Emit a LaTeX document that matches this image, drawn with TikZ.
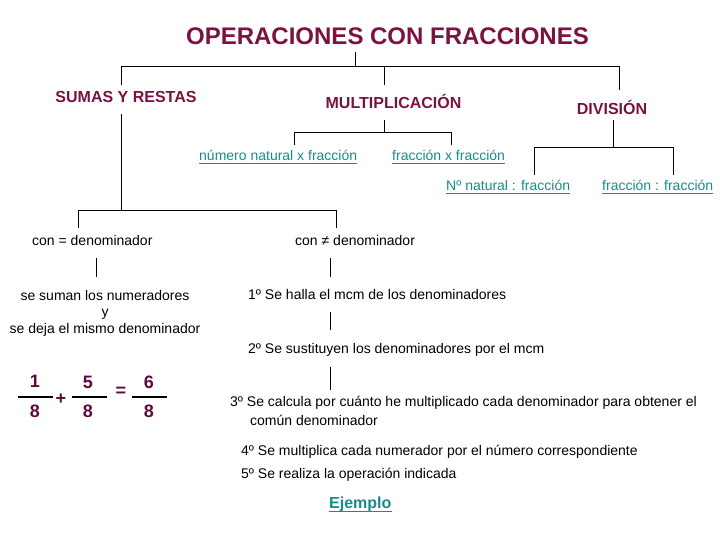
\documentclass[tikz,border=0pt]{standalone}
\usepackage{fontspec}
\setmainfont{Liberation Sans}
\definecolor{headc}{RGB}{122,18,66}
\definecolor{lnkc}{RGB}{22,140,140}
\definecolor{fracc}{RGB}{95,10,60}
\begin{document}
\begin{tikzpicture}[x=1pt,y=-1pt,
  headtxt/.style={font=\fontsize{16}{19}\selectfont\bfseries, text=headc, inner sep=0pt, anchor=base},
  smalltxt/.style={font=\fontsize{14}{16}\selectfont, inner sep=0pt, anchor=base west},
  lnktxt/.style={smalltxt, text=lnkc},
  conn/.style={line width=0.9pt, black},
  fbar/.style={line width=2.6pt, black},
  digit/.style={font=\fontsize{18}{20}\selectfont\bfseries, text=fracc, inner sep=0pt, anchor=center},
  uline/.style={lnkc, line width=0.9pt}]
\fill[white] (0,0) rectangle (720,540);
\useasboundingbox (0,0) rectangle (720,540);

% headings
\node[font=\fontsize{24}{28}\selectfont\bfseries, text=headc, inner sep=0pt, anchor=base] (title) at (387.5,45) {OPERACIONES CON FRACCIONES};
\node[headtxt] (sumas) at (126,103) {SUMAS Y RESTAS};
\node[headtxt] (mult) at (393.5,109) {MULTIPLICACIÓN};
\node[headtxt] (div) at (612,115) {DIVISIÓN};

% link labels
\node[lnktxt] (nxf) at (199,161) {número natural x fracción};
\node[lnktxt] (fxf) at (392,161) {fracción x fracción};
\node[lnktxt] (ndf) at (446,191) {Nº natural : fracción};
\node[lnktxt] (fdf) at (602,191) {fracción : fracción};
\foreach \n in {nxf,fxf,ndf,fdf}
  \draw[uline] ([yshift=-2.5pt]\n.base west) -- ([yshift=-2.5pt]\n.base east);

% sums
\node[smalltxt] (igual) at (32,245) {con = denominador};
\node[smalltxt] (distinto) at (295,245) {con ≠ denominador};
\node[smalltxt, anchor=base] (s1) at (105,300) {se suman los numeradores};
\node[smalltxt, anchor=base] (s2) at (105,316.5) {y};
\node[smalltxt, anchor=base] (s3) at (105,333.5) {se deja el mismo denominador};

\node[smalltxt] (p1) at (248,299) {1º Se halla el mcm de los denominadores};
\node[smalltxt] (p2) at (248,353) {2º Se sustituyen los denominadores por el mcm};
\node[smalltxt] (p3) at (230,406) {3º Se calcula por cuánto he multiplicado cada denominador para obtener el};
\node[smalltxt] (p3b) at (250,425) {común denominador};
\node[smalltxt] (p4) at (241,455) {4º Se multiplica cada numerador por el número correspondiente};
\node[smalltxt] (p5) at (241,478) {5º Se realiza la operación indicada};
\node[font=\fontsize{16}{19}\selectfont\bfseries, text=lnkc, inner sep=0pt, anchor=base west] (ej) at (329,508) {Ejemplo};
\draw[uline, line width=1.3pt] ([yshift=-3.5pt]ej.base west) -- ([yshift=-3.5pt]ej.base east);

% fraction example
\node[digit] (a1) at (35,381) {1};
\node[digit] (a2) at (35,411) {8};
\node[digit] (b1) at (88,382) {5};
\node[digit] (b2) at (88,411) {8};
\node[digit] (c1) at (149,382) {6};
\node[digit] (c2) at (149,411) {8};
\node[digit] (plus) at (61,399) {+};
\node[digit] (eq) at (121,392) {=};
\coordinate (fa1) at (18,397); \coordinate (fa2) at (53,397);
\coordinate (fb1) at (72,397); \coordinate (fb2) at (107,397);
\coordinate (fc1) at (132,397); \coordinate (fc2) at (167,397);
\draw[fbar] (fa1) -- (fa2);
\draw[fbar] (fb1) -- (fb2);
\draw[fbar] (fc1) -- (fc2);

% connector junctions
\coordinate (t0) at (355,52);
\coordinate (t1) at (355,66);
\coordinate (tl) at (121,66);
\coordinate (tm) at (384,66);
\coordinate (tr) at (619,66);
\draw[conn] (t0) -- (t1);
\draw[conn] (tl) -- (tr);
\draw[conn] (tl) -- (121,85);
\draw[conn] (tm) -- (384,85);
\draw[conn] (tr) -- (619,90);

% sumas subtree
\coordinate (sm0) at (121,114);
\coordinate (sm1) at (121,210);
\coordinate (sl) at (78,210);
\coordinate (sr) at (336,210);
\draw[conn] (sm0) -- (sm1);
\draw[conn] (sl) -- (sr);
\draw[conn] (sl) -- (78,228);
\draw[conn] (sr) -- (336,228);
\draw[conn] (96,258) -- (96,277);
\draw[conn] (330,258) -- (330,277);
\draw[conn] (330,312) -- (330,330);
\draw[conn] (330,367) -- (330,390);

% mult subtree
\coordinate (mm0) at (384,120);
\coordinate (mm1) at (384,132);
\coordinate (ml) at (294,132);
\coordinate (mr) at (451,132);
\draw[conn] (mm0) -- (mm1);
\draw[conn] (ml) -- (mr);
\draw[conn] (ml) -- (294,145);
\draw[conn] (mr) -- (451,145);

% div subtree
\coordinate (dm0) at (613,120);
\coordinate (dm1) at (613,147);
\coordinate (dl) at (534,147);
\coordinate (dr) at (673,147);
\draw[conn] (dm0) -- (dm1);
\draw[conn] (dl) -- (dr);
\draw[conn] (dl) -- (534,175);
\draw[conn] (dr) -- (673,175);
\end{tikzpicture}
\end{document}
